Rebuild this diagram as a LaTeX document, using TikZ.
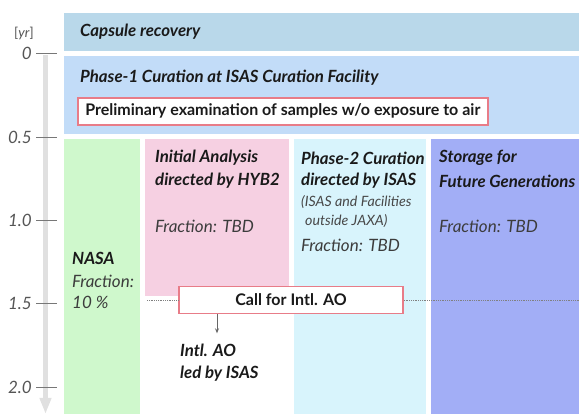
\documentclass[tikz,border=0pt]{standalone}
\usepackage{fontspec}
\setmainfont{Lato}
\usetikzlibrary{arrows.meta}
\definecolor{capc}{HTML}{B9D8EA}
\definecolor{phac}{HTML}{C2DCF8}
\definecolor{nasac}{HTML}{CFF8CC}
\definecolor{pinkc}{HTML}{F6D0E2}
\definecolor{cyanc}{HTML}{D8F4FC}
\definecolor{purc}{HTML}{A2AEF6}
\definecolor{redc}{HTML}{E87C88}
\definecolor{txtc}{HTML}{1A1A1A}
\definecolor{axc}{HTML}{E0E0E0}
\definecolor{ticc}{HTML}{555555}
\tikzset{
  band/.style={anchor=north west, inner sep=0pt, draw=none},
  redbox/.style={draw=redc, line width=1.6pt, fill=white, inner sep=0pt, font=\fontsize{16}{18}\selectfont\bfseries, text=txtc},
  ttl/.style={anchor=west, inner sep=0pt, font=\fontsize{16.8}{19}\selectfont\bfseries\itshape, text=txtc},
  frac/.style={anchor=west, inner sep=0pt, font=\fontsize{17}{19}\selectfont\itshape, text=txtc!85},
  small/.style={anchor=west, inner sep=0pt, font=\fontsize{14.2}{16}\selectfont\itshape, text=txtc!80},
  ticklab/.style={anchor=east, inner sep=0pt, font=\fontsize{17}{19}\selectfont\itshape, text=ticc},
  tickline/.style={draw=ticc!80, line width=0.6pt},
}
\begin{document}
\begin{tikzpicture}[x=1pt,y=-1pt]
\useasboundingbox (0,0) rectangle (579,414);
% axis
\draw[line width=5pt, axc, -{Triangle[width=11pt,length=16pt]}] (45.5,55) -- (45.5,414);
\node[anchor=center, inner sep=0pt, font=\fontsize{13.5}{15}\selectfont, text=ticc] (yr) at (24,33) {[\textit{yr}]};
\foreach \v/\y/\n in {0/53.5/t0, 0.5/137/t1, 1.0/220/t2, 1.5/303/t3, 2.0/387/t4}{
  \node[ticklab] (\n) at (32,\y) {\v};
  \draw[tickline] (36,\y) -- (57,\y);
}
% bands
\node[band, fill=capc, minimum width=515pt, minimum height=38pt] (cap) at (64,13) {};
\node[band, fill=phac, minimum width=515pt, minimum height=78pt] (pha) at (64,56) {};
\node[band, fill=nasac, minimum width=76pt, minimum height=275pt] (nasa) at (64,139) {};
\node[band, fill=pinkc, minimum width=144pt, minimum height=157pt] (pink) at (145,139) {};
\node[band, fill=cyanc, minimum width=132pt, minimum height=275pt] (cyan) at (294,139) {};
\node[band, fill=purc, minimum width=148pt, minimum height=275pt] (pur) at (431,139) {};
% texts
\node[ttl] (capt) at (80,32) {Capsule recovery};
\node[ttl] (phat) at (80,78) {Phase-1 Curation at ISAS Curation Facility};
\node[redbox, minimum width=410pt, minimum height=27pt, anchor=north west] (prel) at (77,97) {Preliminary examination of samples w/o exposure to air};
\node[ttl] (nasat) at (72,258) {NASA};
\node[frac] (nasaf1) at (72,281) {Fraction:};
\node[frac] (nasaf2) at (72,302) {10 \%};
\node[ttl] (ini1) at (155,158) {Initial Analysis};
\node[ttl] (ini2) at (155,181) {directed by HYB2};
\node[frac] (inif) at (155,226) {Fraction: TBD};
\node[ttl] (ph21) at (301,158) {Phase-2 Curation};
\node[ttl] (ph22) at (301,181) {directed by ISAS};
\node[small] (ph23) at (301,202) {(ISAS and Facilities};
\node[small] (ph24) at (305,221) {outside JAXA)};
\node[frac] (ph2f) at (301,245) {Fraction: TBD};
\node[ttl] (st1) at (439,158) {Storage for};
\node[ttl] (st2) at (439,181) {Future Generations};
\node[frac] (stf) at (439,226) {Fraction: TBD};
% call for AO
\coordinate (dl) at (147,300);
\coordinate (dr) at (579,300);
\node[redbox, minimum width=224pt, minimum height=27pt] (call) at (291,300) {Call for Intl. AO};
\draw[densely dotted, gray, line width=0.8pt] (dl) -- (call.west);
\draw[densely dotted, gray, line width=0.8pt] (call.east) -- (dr);
\node[ttl] (ao1) at (180,350) {Intl. AO};
\node[ttl] (ao2) at (180,374) {led by ISAS};
\coordinate (arx) at (217,0);
\draw[gray!80!black, line width=0.8pt, -{Stealth[length=5pt,width=4pt]}] (call.south -| arx) -- ++(0,19);
\end{tikzpicture}
\end{document}
